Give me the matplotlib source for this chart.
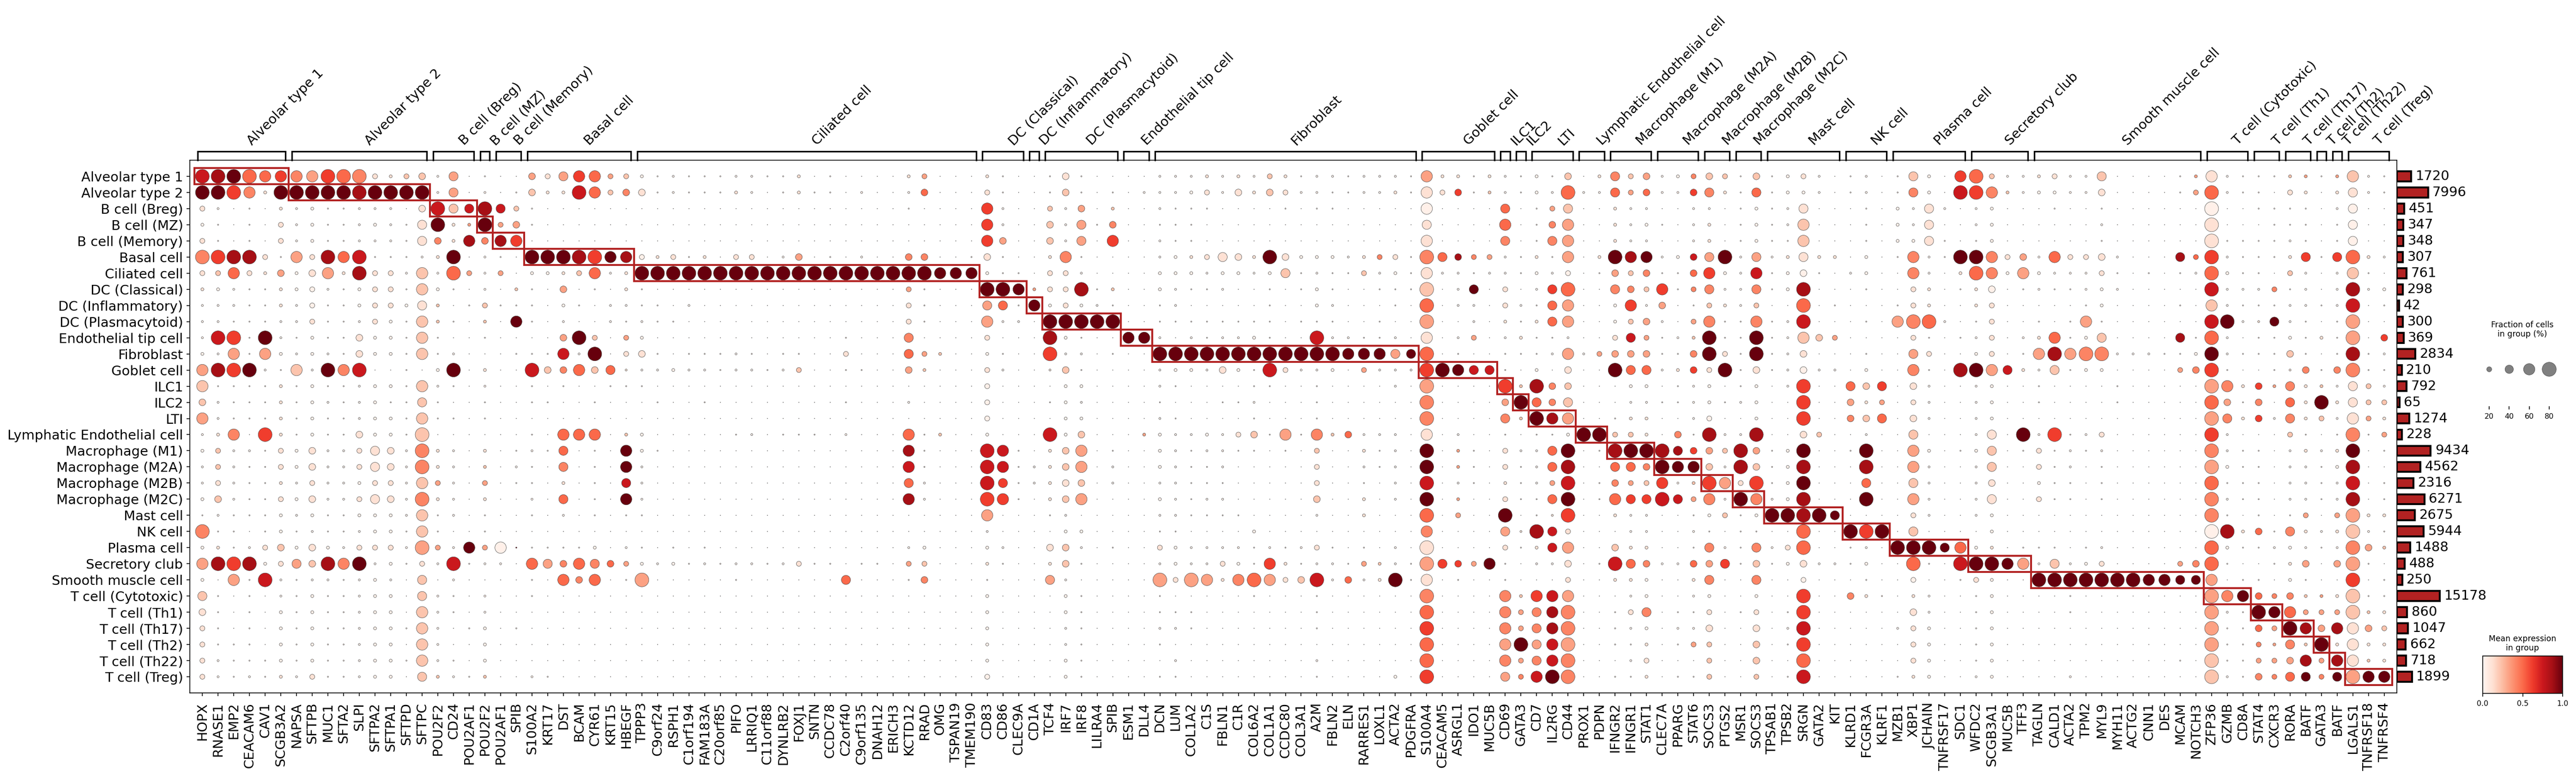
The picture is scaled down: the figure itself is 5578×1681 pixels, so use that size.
import matplotlib
matplotlib.use('Agg')
import matplotlib.pyplot as plt
import numpy as np
from matplotlib.cm import ScalarMappable
from matplotlib.colors import Normalize
from matplotlib.patches import Rectangle

WIDTH, HEIGHT, DPI = 5578, 1681, 150

cell_types = [
    'Alveolar type 1', 'Alveolar type 2', 'B cell (Breg)', 'B cell (MZ)', 'B cell (Memory)',
    'Basal cell', 'Ciliated cell', 'DC (Classical)', 'DC (Inflammatory)', 'DC (Plasmacytoid)',
    'Endothelial tip cell', 'Fibroblast', 'Goblet cell', 'ILC1', 'ILC2', 'LTI',
    'Lymphatic Endothelial cell', 'Macrophage (M1)', 'Macrophage (M2A)', 'Macrophage (M2B)',
    'Macrophage (M2C)', 'Mast cell', 'NK cell', 'Plasma cell', 'Secretory club',
    'Smooth muscle cell', 'T cell (Cytotoxic)', 'T cell (Th1)', 'T cell (Th17)', 'T cell (Th2)',
    'T cell (Th22)', 'T cell (Treg)',
]
group_sizes = [6, 9, 3, 1, 2, 7, 22, 3, 1, 5, 2, 17, 5, 1, 1, 3, 2, 3, 3, 2, 2, 5, 3, 5, 4, 11, 3, 2, 2, 1, 1, 3]
totals = [1720, 7996, 451, 347, 348, 307, 761, 298, 42, 300, 369, 2834, 210, 792, 65, 1274,
          228, 9434, 4562, 2316, 6271, 2675, 5944, 1488, 488, 250, 15178, 860, 1047, 662, 718, 1899]
genes = [
    'HOPX', 'RNASE1', 'EMP2', 'CEACAM6', 'CAV1', 'SCGB3A2',
    'NAPSA', 'SFTPB', 'MUC1', 'SFTA2', 'SLPI', 'SFTPA2', 'SFTPA1', 'SFTPD', 'SFTPC',
    'POU2F2', 'CD24', 'POU2AF1', 'POU2F2', 'POU2AF1', 'SPIB',
    'S100A2', 'KRT17', 'DST', 'BCAM', 'CYR61', 'KRT15', 'HBEGF',
    'TPPP3', 'C9orf24', 'RSPH1', 'C1orf194', 'FAM183A', 'C20orf85', 'PIFO', 'LRRIQ1', 'C11orf88',
    'DYNLRB2', 'FOXJ1', 'SNTN', 'CCDC78', 'C2orf40', 'C9orf135', 'DNAH12', 'ERICH3', 'KCTD12',
    'RRAD', 'OMG', 'TSPAN19', 'TMEM190',
    'CD83', 'CD86', 'CLEC9A', 'CD1A', 'TCF4', 'IRF7', 'IRF8', 'LILRA4', 'SPIB', 'ESM1', 'DLL4',
    'DCN', 'LUM', 'COL1A2', 'C1S', 'FBLN1', 'C1R', 'COL6A2', 'COL1A1', 'CCDC80', 'COL3A1', 'A2M',
    'FBLN2', 'ELN', 'RARRES1', 'LOXL1', 'ACTA2', 'PDGFRA',
    'S100A4', 'CEACAM5', 'ASRGL1', 'IDO1', 'MUC5B', 'CD69', 'GATA3', 'CD7', 'IL2RG', 'CD44',
    'PROX1', 'PDPN', 'IFNGR2', 'IFNGR1', 'STAT1', 'CLEC7A', 'PPARG', 'STAT6', 'SOCS3', 'PTGS2',
    'MSR1', 'SOCS3', 'TPSAB1', 'TPSB2', 'SRGN', 'GATA2', 'KIT', 'KLRD1', 'FCGR3A', 'KLRF1',
    'MZB1', 'XBP1', 'JCHAIN', 'TNFRSF17', 'SDC1', 'WFDC2', 'SCGB3A1', 'MUC5B', 'TFF3',
    'TAGLN', 'CALD1', 'ACTA2', 'TPM2', 'MYL9', 'MYH11', 'ACTG2', 'CNN1', 'DES', 'MCAM', 'NOTCH3',
    'ZFP36', 'GZMB', 'CD8A', 'STAT4', 'CXCR3', 'RORA', 'BATF', 'GATA3', 'BATF',
    'LGALS1', 'TNFRSF18', 'TNFRSF4',
]

# one digit per gene; the digit is an index into the level lists
frac_levels = [0.008, 0.03, 0.06, 0.10, 0.20, 0.30, 0.45, 0.60, 0.78, 0.92]
expr_levels = [0.03, 0.12, 0.22, 0.33, 0.42, 0.50, 0.62, 0.75, 0.87, 1.0]

frac_rows = [
    '888877 778884345 260100 5467744 3121112211301000034000 3100 15100 00 22232324312212221 73313 21315 03 645 234 54 15 13420 120 16307 8422 34226000013 721 11 33 1 3 721',
    '888738 888888888 260201 5338745 5121113201311020025000 4100 15101 02 22342535422112231 74513 21328 22 645 225 63 16 13320 120 16308 8732 33225000014 821 10 43 0 3 621',
    '420103 231122205 866864 1000000 0000000000000000010000 7200 42503 00 21110000101100000 70000 60146 00 322 002 20 13 12600 010 32620 2300 01001000000 800 11 11 0 2 600',
    '310104 231123216 833845 1000000 0000000000000000000000 7200 52615 00 11100000000000000 60000 70157 00 323 102 30 13 12700 010 32600 2300 00002000000 800 01 11 0 1 600',
    '410104 231122216 537577 0000000 0000000000000000000000 7500 52607 00 21100000000000000 70000 60167 00 322 002 30 13 11700 010 33610 1300 00001000000 811 11 21 0 1 600',
    '888841 748781112 380210 8888877 4341304402501020055001 5100 37100 00 23346538533323441 86544 21317 03 877 235 68 26 23633 030 17218 8745 27445200064 821 11 36 1 6 832',
    '447435 357384427 284240 3334723 8888888888888888888777 3110 44200 00 33323323612114231 72212 21324 01 545 115 73 27 13510 230 07203 8737 32224101012 831 10 42 0 2 710',
    '332113 342134417 310203 1050103 1000000000000000041000 8873 44813 00 32112001013100111 80260 40268 00 654 714 62 26 13800 010 04301 3501 21123200000 822 24 12 0 2 823',
    '222113 241134436 301411 1031022 1102000000000000041000 6617 34321 00 12000001003200010 80220 42167 00 372 501 43 24 00801 000 14300 3400 00013000010 721 11 22 1 2 801',
    '221112 241124317 310307 1020021 2110000000000000041000 7220 88888 00 11111111011100100 80020 31367 00 345 204 71 17 12800 010 78820 1400 10171000000 882 26 21 0 1 800',
    '288182 131153317 100100 0058404 3000000000000100060000 4000 83100 77 20212231008221120 70240 23112 00 464 123 81 18 12754 000 04101 2402 37136000061 820 11 31 3 1 805',
    '327173 232153317 120001 1172804 5101112101100400064300 3100 82201 00 88888888888877766 80100 11127 24 555 115 84 18 12500 010 06400 3401 78788222113 821 11 51 0 1 812',
    '788821 728780010 380300 8557562 2232212212400110053000 4200 25100 00 23325318422304222 88766 10305 00 866 235 48 15 12522 030 07108 8763 26133000045 810 01 25 1 5 811',
    '711113 131123317 210200 1010011 1000000000000000000000 4000 03300 00 21000011001000020 80000 83855 00 033 012 30 13 02800 656 05200 2300 10000100000 873 53 63 3 2 642',
    '521113 132123116 100100 1100100 0100100000000100020000 4000 13200 00 10001120001000000 80000 58656 00 022 112 31 23 00800 534 04200 2300 10000100000 851 50 63 8 3 644',
    '721113 131123317 110100 0000000 0000000000000000000000 4000 03300 00 21000010001000000 80000 63877 00 133 002 40 03 00800 556 05200 2300 00000000000 863 52 63 4 2 743',
    '237083 131153318 000000 1077703 3000001201110200071300 3000 83500 03 32232451717352220 70200 10113 88 443 051 82 28 00540 020 06000 2608 28124000000 820 00 41 0 1 814',
    '342214 352246528 320301 2160107 3100000000000000071000 8710 35701 00 32122110104003120 80310 42268 01 888 865 54 85 13800 180 07301 3601 41212000000 821 10 23 2 3 801',
    '242114 352246528 320302 1060107 2000000000000000071000 8712 35702 00 32112000004002120 80310 41268 00 665 877 52 85 13800 080 07200 2600 41201000000 831 10 22 1 3 800',
    '242113 242234427 420401 1030106 2000000000000000062000 8612 35502 00 22111000004001020 80210 31248 01 544 723 87 48 13800 060 06200 2500 31101000000 811 10 22 1 2 801',
    '352114 352246528 320300 2060107 2000000000000000072000 8710 35700 00 32122000005003020 80300 41168 01 766 864 72 87 23800 080 07200 2600 41101000000 821 10 22 1 2 801',
    '121113 231133327 120100 1020101 1000000000000000000000 7000 12000 00 22111100002003000 80400 80128 00 322 001 34 13 88886 000 04200 2300 00000000000 810 10 14 0 4 833',
    '811013 121123317 100100 0000000 0000000000000000000000 2000 03300 00 11000030000000000 70000 62864 00 022 002 10 11 00800 888 06000 0300 00000000000 883 51 63 2 3 821',
    '331245 353244428 427471 1111302 1010100000000000023000 3200 55201 00 43222212124101020 80000 41367 00 533 001 62 16 24800 120 88867 3301 11012000000 831 12 32 1 2 853',
    '788834 658782314 281220 7657654 3231212212411011044000 3100 35100 00 23224317312214321 86547 10225 01 865 225 56 15 13522 130 08108 8877 26234000045 810 01 35 0 5 810',
    '307182 122123206 020000 1075701 8000001000000600015000 1000 62000 00 84873787458252381 70100 10004 00 333 003 60 06 00400 010 04001 4300 88888887766 701 10 31 0 0 801',
    '610102 131123306 210200 1000000 0000000000000000000000 3000 03100 00 10000010001000000 80000 73777 00 023 002 30 03 00800 531 03200 1300 00100000000 877 54 53 3 3 811',
    '510103 131123307 210200 0000000 0000000000000000000000 3000 03100 00 11100000001000000 80000 74678 00 146 011 40 14 01800 000 05200 1300 00100000000 821 87 74 4 4 833',
    '410103 131123317 201301 0000000 0000000000000000000000 3000 02100 00 22100000001000000 80000 74678 00 123 022 50 05 02800 000 24300 1300 00000000000 811 54 87 5 7 754',
    '411103 131123307 200300 0000000 0000000000000000000000 3000 02100 00 10000000000000000 80000 78678 00 113 014 40 05 01800 000 04300 1300 00000000000 811 43 63 8 3 733',
    '421113 131123317 210300 0000000 0000000000000000000000 3000 03100 00 02000000002000000 80000 74678 00 024 000 40 05 00800 000 04300 1300 00000000010 811 44 57 4 7 733',
    '421213 241123306 321300 2100000 0000000000000000000000 4000 03100 00 11000000001000030 80000 64788 00 113 011 40 04 01800 000 13300 2300 00200000000 821 54 66 4 6 877',
]
expr_rows = [
    '789556 436541122 030000 3136532 0000000000100000013000 1000 01000 00 00010102100000000 31101 00002 01 423 004 22 02 00100 000 02006 5200 11002000003 100 00 23 0 3 200',
    '996419 999989999 030000 2117524 1000001000100000005000 1000 02000 00 00010112100000010 11602 00005 00 535 006 41 05 00000 000 04007 6420 00001000003 500 00 11 0 1 100',
    '100001 000000001 727872 0000000 0000000000000000000000 6000 20302 00 00000000000000000 00000 50032 00 100 000 00 00 00100 000 00100 0000 00000000000 000 00 00 0 0 000',
    '000001 000000001 913933 0000000 0000000000000000000000 6000 20304 00 00000000000000000 10000 50043 00 100 000 10 00 00200 000 00100 0000 00000000000 100 00 00 0 0 000',
    '100001 000000001 418486 0000000 0000000000000000000000 6300 20306 00 00000000000000000 10000 40043 00 100 000 10 00 00200 000 00100 0000 00000000000 100 00 00 0 0 000',
    '468810 318570000 190000 9998698 0110101100300000044000 1000 14000 00 00111119100001410 45843 00103 01 989 007 39 03 01111 000 04009 9413 05111000085 600 00 16 0 6 510',
    '125113 013181102 053030 0012501 9999999999999999999999 0000 11000 00 00000000200002000 10000 00000 00 324 005 60 07 00000 000 04001 5403 00001000000 500 00 20 0 0 200',
    '100001 000001102 000002 0030001 0000000000000000030000 9993 11802 00 00000000000000000 20090 10065 00 442 604 40 04 00800 000 01100 1000 00000000000 700 04 00 0 0 800',
    '000001 000001101 200200 0000000 0000000000000000010000 3509 01000 00 00000000000000000 50000 10053 00 060 300 21 02 00500 000 01100 1100 00000000000 200 00 00 0 0 700',
    '000000 010001002 200209 0000000 0000000000000000010000 3000 99999 00 00000000000000000 30000 10153 00 023 003 40 04 00700 000 34500 0100 00030000000 790 19 00 0 0 300',
    '076090 000010002 000000 0039203 0000000000000000040000 1000 80000 99 00000000007000000 10030 01000 00 173 002 90 09 00223 000 01000 0100 15002000080 500 00 00 1 0 306',
    '003030 000010002 000000 0070901 1000000000000100053200 0000 60000 00 99999999999999939 50000 00003 03 333 004 91 09 00100 000 03100 0100 38344000000 900 00 20 0 0 800',
    '386900 209470000 090100 7245251 0000000000200000032000 1000 12000 00 00001007100003000 69977 00001 00 955 016 19 01 00000 000 04008 9371 02000000034 600 00 14 0 4 400',
    '200001 000000002 000000 0000000 0000000000000000000000 0000 00000 00 00000000000000000 30000 62842 00 000 000 00 00 00600 526 01000 0000 00000000000 341 63 41 2 0 120',
    '200001 000000002 000000 0000000 0000000000000000000000 0000 00000 00 00000000000000000 40000 39542 00 000 000 00 00 00600 313 01000 0000 00000000000 530 40 51 9 1 122',
    '300001 000000002 000000 0000000 0000000000000000000000 0000 00000 00 00000000000000000 40000 42983 00 011 000 00 00 00600 425 01000 0000 00000000000 341 60 41 2 0 131',
    '014061 000010002 000000 0055502 0000000000000000050200 0000 70200 03 00000120304250000 10000 00000 99 221 040 80 08 00120 000 02000 0109 06001000000 600 00 20 0 0 403',
    '020001 010011104 100100 0050009 0000000000000000080000 7700 12300 00 00000000002001000 90300 10059 00 899 886 32 83 00900 090 03000 0200 10000000000 400 00 01 0 1 900',
    '020001 010011104 100200 0040009 0000000000000000070000 7700 12300 00 00000000001000000 90300 10058 00 554 999 20 82 00800 080 03000 0200 10000000000 300 00 00 0 0 800',
    '010001 010001102 300300 0010007 0000000000000000050000 7600 11200 00 00000000001000000 70000 10037 00 432 602 63 16 00900 050 02000 0100 00000000000 500 00 00 0 0 700',
    '020001 010011104 100100 0050009 0000000000000000080000 6600 12300 00 00000000002001000 90300 10059 00 566 773 40 94 00800 090 03000 0100 10000000000 400 00 00 0 0 800',
    '000000 000000002 000000 0000000 0000000000000000000000 3000 00000 00 00000000000001000 50300 90016 00 100 000 02 00 99899 000 01000 0000 00000000000 400 00 03 0 3 311',
    '400000 000000002 000000 0000000 0000000000000000000000 0000 00000 00 00000000000000000 40000 31871 00 000 000 00 00 00500 969 02000 0000 00000000000 081 50 41 0 1 200',
    '010012 010011103 309309 0000000 0000000000000000000000 0000 12000 00 10000000001000000 10000 10173 00 211 000 40 04 01500 000 99995 0100 00000000000 500 00 00 0 0 432',
    '386801 328490001 070000 5345453 0000000000100000032000 1000 12000 00 00001006100003200 36639 00001 00 754 005 36 02 00100 000 05007 9993 02001000034 500 00 13 0 3 300',
    '003070 000000002 000000 0054500 3000000000000500004000 0000 30000 00 31331453127050190 10000 00001 00 110 001 40 04 00000 000 00000 1000 99999999999 300 00 00 0 0 600',
    '200000 000000002 000000 0000000 0000000000000000000000 0000 00000 00 00000000000000000 40000 42673 00 000 000 00 00 00600 411 01000 0000 00000000000 349 54 42 3 1 200',
    '100000 000000002 000000 0000000 0000000000000000000000 0000 00000 00 00000000000000000 50000 43484 00 014 000 10 01 00600 000 01000 0000 00000000000 300 99 53 3 3 221',
    '100000 000000002 000000 0000000 0000000000000000000000 0000 00000 00 00000000000000000 60000 43484 00 000 000 10 01 00700 000 01000 0000 00000000000 300 53 98 3 8 132',
    '100000 000000002 000000 0000000 0000000000000000000000 0000 00000 00 00000000000000000 50000 39373 00 001 003 20 02 00600 000 01000 0000 00000000000 300 43 42 9 1 111',
    '100000 000000002 000000 0000000 0000000000000000000000 0000 00000 00 00000000000000000 50000 43474 00 001 000 20 02 00500 000 01000 0000 00000000000 200 33 38 3 8 121',
    '100001 010000002 200200 0000000 0000000000000000000000 0000 00000 00 00000000000000000 60000 34794 00 001 000 20 02 00700 000 01000 0000 00000000000 200 44 59 4 9 399',
]
legend_fractions = [20, 40, 60, 80]

HIGHLIGHT = '#b22222'
LARGEST_DOT = 300


def parse_rows(rows, levels):
    table = []
    for i, row in enumerate(rows):
        digits = row.replace(' ', '')
        if len(digits) != len(genes):
            raise ValueError(f'row {i} has {len(digits)} cells')
        table.append([levels[int(d)] for d in digits])
    return np.array(table)


def dot_size(frac):
    return np.asarray(frac) ** 1.5 * LARGEST_DOT


def px_axes(left, top, right, bottom):
    return fig.add_axes([left / WIDTH, 1 - bottom / HEIGHT, (right - left) / WIDTH, (bottom - top) / HEIGHT])


frac = parse_rows(frac_rows, frac_levels)
expr = parse_rows(expr_rows, expr_levels)

fig = plt.figure(figsize=(WIDTH / DPI, HEIGHT / DPI), dpi=DPI)

# main dot plot
ax = px_axes(411, 347, 5190, 1501)
xs, ys = np.meshgrid(np.arange(len(genes)), np.arange(len(cell_types)))
ax.scatter(xs.ravel(), ys.ravel(), s=dot_size(frac.ravel()), c=expr.ravel(), cmap='Reds', vmin=0, vmax=1,
           edgecolor='0.25', linewidth=0.35, zorder=3)
ax.set_xlim(-0.8, len(genes) - 0.2)
ax.set_ylim(len(cell_types), -1)
ax.set_xticks(np.arange(len(genes)), genes, rotation=90, fontsize=13.9)
ax.set_yticks(np.arange(len(cell_types)), cell_types, fontsize=13.9)
ax.tick_params(axis='x', pad=6.5)

# red boxes on the diagonal, brackets and group names on top
bracket_ax = px_axes(411, 328, 5190, 347)
bracket_ax.set_xlim(ax.get_xlim())
bracket_ax.set_ylim(0, 1)
bracket_ax.axis('off')
start = 0
for row, (name, size) in enumerate(zip(cell_types, group_sizes)):
    end = start + size - 1
    ax.add_patch(Rectangle((start - 0.5, row - 0.5), size, 1, fill=False, edgecolor=HIGHLIGHT,
                           linewidth=2, clip_on=False, zorder=4))
    bracket_ax.plot([start - 0.3, start - 0.3, end + 0.3, end + 0.3], [0, 1, 1, 0], color='black',
                    linewidth=1.6, clip_on=False, solid_joinstyle='miter')
    bracket_ax.text((start + end) / 2 + 0.2, 1.4, name, rotation=45, ha='left', va='bottom', fontsize=13.9)
    start += size

# totals on the right
bar_ax = px_axes(5190, 347, 5320, 1501)
bar_ax.set_xscale('function', functions=(np.sqrt, np.square))
bar_ax.barh(np.arange(len(cell_types)), totals, height=0.62, color=HIGHLIGHT, edgecolor='black', linewidth=2)
bar_ax.set_xlim(0, 29584)
bar_ax.set_ylim(len(cell_types), -1)
bar_ax.axis('off')
for row, total in enumerate(totals):
    bar_ax.annotate(str(total), (total, row), xytext=(4.5, 0), textcoords='offset points',
                    va='center', ha='left', fontsize=13.9)

# dot size legend
fig.text(5462 / WIDTH, 1 - 714 / HEIGHT, 'Fraction of cells\nin group (%)', ha='center', va='center', fontsize=8.3)
size_ax = px_axes(5376, 760, 5549, 880)
size_ax.scatter(legend_fractions, [0.667] * 4, s=dot_size(np.array(legend_fractions) / 100), color='gray',
                edgecolor='0.25', linewidth=0.35)
size_ax.set_xlim(13.5, 93.4)
size_ax.set_ylim(0, 1)
size_ax.set_xticks(legend_fractions)
size_ax.set_yticks([])
size_ax.tick_params(labelsize=7.6)
for side in size_ax.spines.values():
    side.set_visible(False)

# colour legend
fig.text(5462 / WIDTH, 1 - 1394 / HEIGHT, 'Mean expression\nin group', ha='center', va='center', fontsize=8.3)
cbar_ax = px_axes(5376, 1421, 5549, 1502)
cbar = fig.colorbar(ScalarMappable(Normalize(0, 1), 'Reds'), cax=cbar_ax, orientation='horizontal', ticks=[0, 0.5, 1])
cbar.ax.tick_params(labelsize=7.6)

plt.savefig('out.png', dpi=DPI)
plt.close()
